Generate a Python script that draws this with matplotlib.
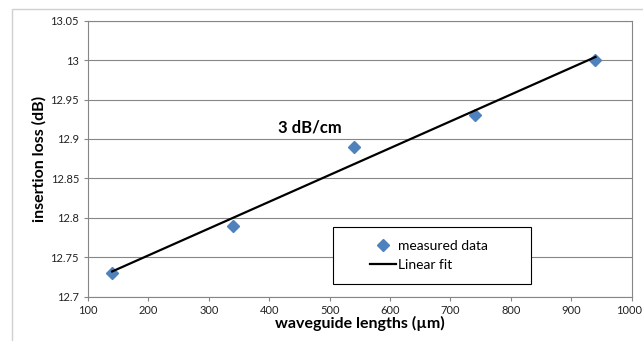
import numpy as np
import matplotlib
matplotlib.use("Agg")
import matplotlib.pyplot as plt
import matplotlib.transforms as mtransforms
from matplotlib.patches import Rectangle

plt.rcParams['font.family'] = ['Lato', 'DejaVu Sans']

# data
lengths_um = [140, 340, 540, 740, 940]
loss_db = [12.73, 12.79, 12.89, 12.93, 13.0]
x_ticks = [100, 200, 300, 400, 500, 600, 700, 800, 900, 1000]
y_ticks = [12.7, 12.75, 12.8, 12.85, 12.9, 12.95, 13.0, 13.05]
y_tick_labels = ['12.7', '12.75', '12.8', '12.85', '12.9', '12.95', '13', '13.05']

# ajuste linear
coef = np.polyfit(lengths_um, loss_db, 1)
x_fit = np.array([min(lengths_um), max(lengths_um)])
y_fit = np.polyval(coef, x_fit)

W, H = 643, 341
fig = plt.figure(figsize=(W / 100, H / 100), dpi=100)
ax_l, ax_r, ax_t, ax_b = 88, 631.7, 20.7, 296.7
ax = fig.add_axes([ax_l / W, 1 - ax_b / H, (ax_r - ax_l) / W, (ax_b - ax_t) / H])

# moldura externa estilo Excel
fig.patches.append(Rectangle((12 / W, -0.1), 1.2, 1 - 9 / H + 0.1, transform=fig.transFigure,
                             fill=False, edgecolor='#d0d0d0', linewidth=1.0))

cinza = '#868686'
ax.set_xlim(100, 1000)
ax.set_ylim(12.7, 13.05)
ax.set_xticks(x_ticks)
ax.set_yticks(y_ticks)
ax.set_yticklabels(y_tick_labels)
ax.grid(True, axis='y', color=cinza, linewidth=0.8)
ax.set_axisbelow(True)
for s in ax.spines.values():
    s.set_color(cinza)
    s.set_linewidth(0.8)
ax.tick_params(axis='both', colors=cinza, length=3, width=0.8, labelsize=8, labelcolor='#222222')
ax.tick_params(axis='x', pad=3)

# puxa o rótulo "1000" um pouco para dentro da figura
ultimo = ax.get_xticklabels()[-1]
ultimo.set_transform(ultimo.get_transform() +
                     mtransforms.ScaledTranslation(-3 / 100, 0, fig.dpi_scale_trans))

ax.plot(lengths_um, loss_db, linestyle='none', marker='D', markersize=6.5,
        color='#4f81bd', label='measured data', zorder=3)
ax.plot(x_fit, y_fit, color='black', linewidth=1.6, label='Linear fit', zorder=4)

ax.text(414, 12.915, '3 dB/cm', fontsize=12, fontweight='bold', va='center', ha='left')

ax.set_xlabel('waveguide lengths (µm)', fontsize=11.5, fontweight='bold', labelpad=0)
ax.set_ylabel('insertion loss (dB)', fontsize=11.5, fontweight='bold', labelpad=3)

# caixa da legenda desenhada à parte
def px_to_ax(x, y):
    return (x - ax_l) / (ax_r - ax_l), (ax_b - y) / (ax_b - ax_t)

bx0, by0 = px_to_ax(333, 284.3)
bx1, by1 = px_to_ax(530.7, 226.7)
ax.add_patch(Rectangle((bx0, by0), bx1 - bx0, by1 - by0, transform=ax.transAxes,
                       facecolor='white', edgecolor='black', linewidth=0.8, zorder=5))
lx, ly = px_to_ax(370, 255.5)
leg = ax.legend(loc='center left', bbox_to_anchor=(lx, ly), frameon=False, fontsize=10,
                handlelength=1.9, handletextpad=0.15, labelspacing=0.55, borderpad=0,
                borderaxespad=0)
leg.set_zorder(6)

fig.savefig('out.png', dpi=100)
